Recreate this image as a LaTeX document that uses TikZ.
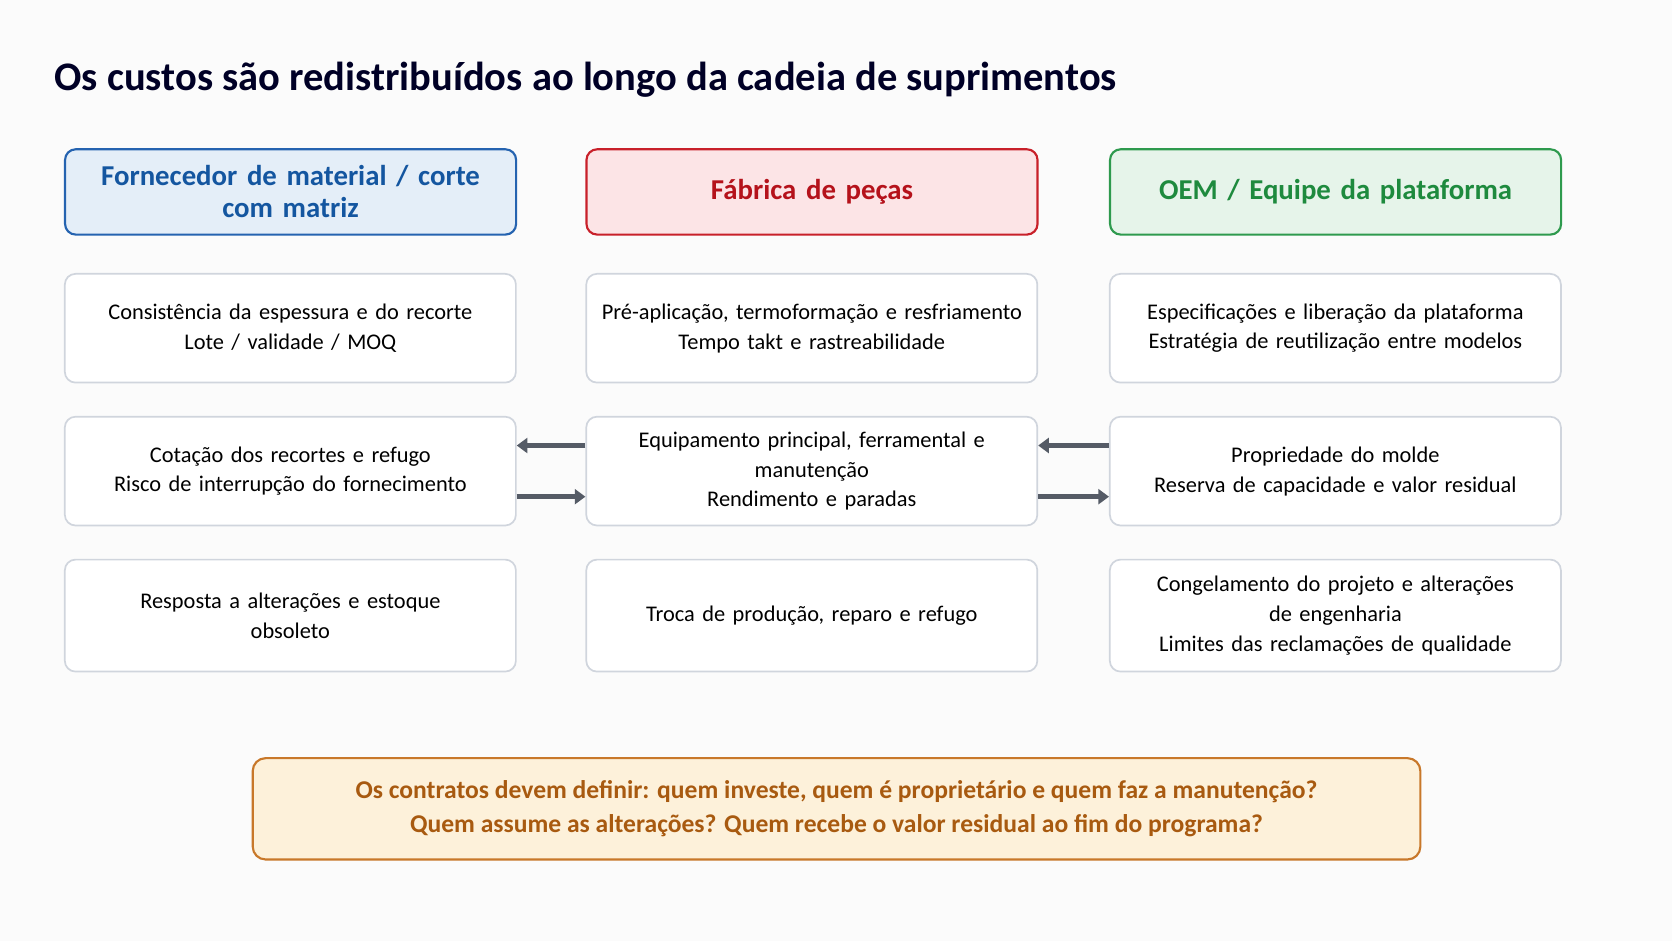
\documentclass[tikz,border=0pt]{standalone}
\usepackage{fontspec}
\setmainfont{Carlito}
\usetikzlibrary{positioning,arrows.meta}

\definecolor{bluetxt}{HTML}{1456A0}
\definecolor{blueln}{HTML}{2563B0}
\definecolor{bluebg}{HTML}{E4EEF8}
\definecolor{redtxt}{HTML}{B5121B}
\definecolor{redln}{HTML}{C8202A}
\definecolor{redbg}{HTML}{FCE4E6}
\definecolor{greentxt}{HTML}{1E8A3E}
\definecolor{greenln}{HTML}{2E9A4E}
\definecolor{greenbg}{HTML}{E6F4EA}
\definecolor{orangetxt}{HTML}{A85A10}
\definecolor{orangeln}{HTML}{C8782A}
\definecolor{orangebg}{HTML}{FDF1DA}
\definecolor{grayln}{HTML}{D0D5DD}
\definecolor{arrowgray}{HTML}{555B66}

\tikzset{
    cell/.style = {draw=grayln, fill=white, line width=0.8pt, rectangle,
        rounded corners=5pt, minimum width=211.5pt, text width=200pt,
        align=center, font=\fontsize{10.5}{14}\selectfont, anchor=north west},
    head/.style = {cell, line width=1pt, minimum height=40pt,
        font=\fontsize{13.5}{15}\selectfont\bfseries},
    flow/.style = {-{Triangle[length=5pt,width=7pt]}, line width=2.2pt, draw=arrowgray}
}

\begin{document}
\begin{tikzpicture}[x=0.5pt,y=-0.5pt]
\fill[white!97!gray] (0,0) rectangle (1568,882);
\useasboundingbox (0,0) rectangle (1568,882);

\node[anchor=west, font=\fontsize{19}{22}\selectfont\bfseries, text=black!85!blue] (title) at (44,75)
    {Os custos são redistribuídos ao longo da cadeia de suprimentos};

%------------ Kopfzeile ---------------------
\node[head, draw=blueln, fill=bluebg, text=bluetxt] (hsup) at (60,139)
    {Fornecedor de material / corte\\com matriz};
\node[head, draw=redln, fill=redbg, text=redtxt] (hfab) at (549,139) {Fábrica de peças};
\node[head, draw=greenln, fill=greenbg, text=greentxt] (hoem) at (1040,139) {OEM / Equipe da plataforma};

%------------ Zeilen ---------------------
\node[cell, minimum height=51pt] (s1) at (60,256)
    {Consistência da espessura e do recorte\\Lote / validade / MOQ};
\node[cell, minimum height=51pt] (f1) at (549,256)
    {Pré-aplicação, termoformação e resfriamento\\Tempo takt e rastreabilidade};
\node[cell, minimum height=51pt] (o1) at (1040,256)
    {Especificações e liberação da plataforma\\Estratégia de reutilização entre modelos};

\node[cell, minimum height=51pt] (s2) at (60,390)
    {Cotação dos recortes e refugo\\Risco de interrupção do fornecimento};
\node[cell, minimum height=51pt] (f2) at (549,390)
    {Equipamento principal, ferramental e\\manutenção\\Rendimento e paradas};
\node[cell, minimum height=51pt] (o2) at (1040,390)
    {Propriedade do molde\\Reserva de capacidade e valor residual};

\node[cell, minimum height=52.5pt] (s3) at (60,524)
    {Resposta a alterações e estoque\\obsoleto};
\node[cell, minimum height=52.5pt] (f3) at (549,524)
    {Troca de produção, reparo e refugo};
\node[cell, minimum height=52.5pt] (o3) at (1040,524)
    {Congelamento do projeto e alterações\\de engenharia\\Limites das reclamações de qualidade};

%------------ Pfeile ---------------------
\draw[flow] ([yshift=-12]s2.east) -- ([yshift=-12]f2.west);
\draw[flow] ([yshift=12]f2.west) -- ([yshift=12]s2.east);
\draw[flow] ([yshift=-12]f2.east) -- ([yshift=-12]o2.west);
\draw[flow] ([yshift=12]o2.west) -- ([yshift=12]f2.east);

%------------ Vertrag ---------------------
\node[draw=orangeln, fill=orangebg, text=orangetxt, line width=1pt, rounded corners=6pt,
    minimum width=547.5pt, minimum height=47.5pt, align=center, anchor=north west,
    font=\fontsize{12}{16}\selectfont\bfseries] (contract) at (236,710)
    {Os contratos devem definir: quem investe, quem é proprietário e quem faz a manutenção?\\
     Quem assume as alterações? Quem recebe o valor residual ao fim do programa?};
\end{tikzpicture}
\end{document}
